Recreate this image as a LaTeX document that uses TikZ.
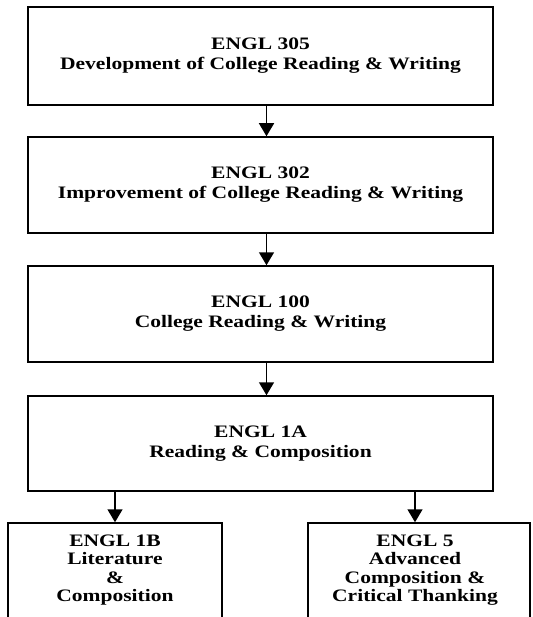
\documentclass[tikz,border=0pt]{standalone}
\usepackage{fontspec}
\setmainfont{Liberation Serif}
\newfontfamily\widefont[FakeStretch=1.23]{Liberation Serif}
\usetikzlibrary{arrows.meta}
\tikzset{
  box/.style={draw, line width=1.5pt, minimum width=465pt, align=center, inner sep=0pt,
    font=\widefont\fontsize{17.5}{20}\selectfont\bfseries},
  smalltext/.style={align=center, inner sep=0pt, anchor=north,
    font=\widefont\fontsize{17.5}{18.5}\selectfont\bfseries},
  arr/.style={line width=1.5pt, -{Triangle[width=15pt,length=13pt]}}
}
\begin{document}
\begin{tikzpicture}[x=1pt,y=-1pt]
\useasboundingbox (0,0) rectangle (532,617);
\clip (0,0) rectangle (532,617);
\node[box, minimum height=98pt] (b1) at (260.5,56) {ENGL 305\\Development of College Reading \& Writing};
\node[box, minimum height=96pt] (b2) at (260.5,185) {ENGL 302\\Improvement of College Reading \& Writing};
\node[box, minimum height=96pt] (b3) at (260.5,314) {ENGL 100\\College Reading \& Writing};
\node[box, minimum height=95pt] (b4) at (260.5,443.5) {ENGL 1A\\Reading \& Composition};
\node[draw, line width=1.5pt, minimum width=214pt, minimum height=140pt, inner sep=0pt] (b5) at (115,593) {};
\node[draw, line width=1.5pt, minimum width=222pt, minimum height=140pt, inner sep=0pt] (b6) at (419,593) {};
\node[smalltext] (t5) at ([yshift=-12pt]b5.north) {ENGL 1B\\Literature\\\&\\Composition};
\node[smalltext] (t6) at ([yshift=-12pt,xshift=-4pt]b6.north) {ENGL 5\\Advanced\\Composition \&\\Critical Thanking};
\draw[arr] ([xshift=6pt]b1.south) -- ([xshift=6pt]b2.north);
\draw[arr] ([xshift=6pt]b2.south) -- ([xshift=6pt]b3.north);
\draw[arr] ([xshift=6pt]b3.south) -- ([xshift=6pt]b4.north);
\draw[arr] (b4.south -| b5.north) -- (b5.north);
\draw[arr] (b4.south -| t6.north) -- (t6.north |- b6.north);
\end{tikzpicture}
\end{document}
